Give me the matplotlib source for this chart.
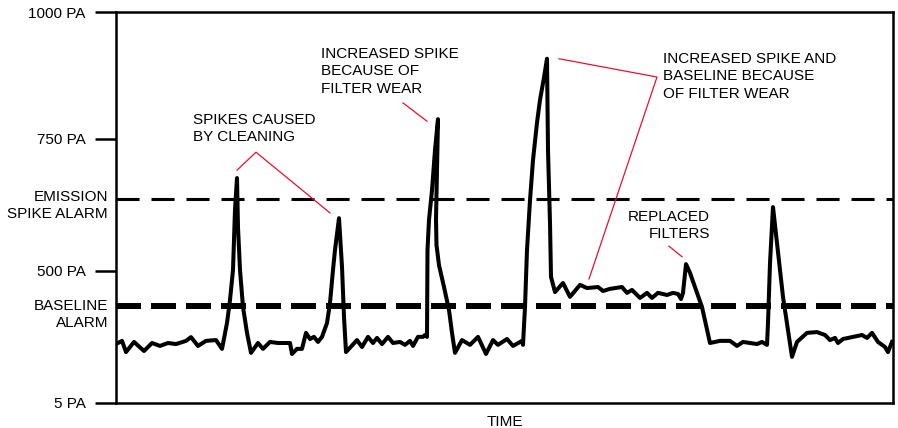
import numpy as np
import matplotlib.pyplot as plt

plt.rcParams['font.family'] = ['Liberation Sans', 'DejaVu Sans']
plt.rcParams['lines.scale_dashes'] = False

# pressure drop trace (time in arbitrary units, pressure in PA)
time = [0, 6, 10, 18, 28, 36, 44, 52, 60, 70, 75, 82, 90, 100, 106, 111, 114, 117, 119, 121,
        122, 124, 127, 131, 135, 142, 147, 154, 162, 174, 176, 181, 186, 190, 194, 198, 202,
        206, 211, 214, 217, 219, 223, 226, 228, 230, 241, 246, 252, 257, 261, 266, 272, 277,
        284, 289, 294, 297, 302, 307, 309, 311, 311.5, 313, 316, 319, 322, 321, 320, 320.5,
        323, 328, 333, 336, 339, 346, 354, 362, 370, 377, 382, 391, 397, 406, 407, 409, 411,
        414, 417, 421, 424, 428, 431, 432, 434, 435, 439, 447, 454, 464, 471, 482, 487, 494, 506, 511,
        516, 524, 531, 536, 542, 551, 557, 562, 565, 567, 570, 574, 581, 586, 594, 604, 614,
        621, 627, 634, 641, 646, 651, 652, 654, 657, 661, 667, 672, 676, 681, 691, 701, 709,
        714, 719, 722, 727, 737, 746, 751, 756, 762, 769, 772, 776]
pressure = [226, 238, 196, 234, 200, 230, 219, 230, 226, 238, 252, 219, 238, 241, 208, 305, 391, 502, 616, 676,
            583, 502, 365, 268, 193, 230, 208, 234, 230, 230, 189, 208, 208, 268, 245, 253, 234,
            253, 305, 380, 502, 540, 600, 508, 328, 196, 241, 215, 253, 230, 249, 226, 253, 230,
            234, 223, 238, 219, 253, 253, 260, 253, 540, 597, 653, 729, 789, 691, 597, 549,
            511, 440, 354, 268, 193, 241, 223, 253, 189, 241, 223, 245, 219, 238, 223, 365, 540,
            634, 710, 782, 827, 871, 908, 729, 591, 478, 421, 455, 403, 448, 436, 440, 425, 433, 440, 418,
            429, 399, 418, 399, 418, 410, 418, 414, 395, 418, 513, 493, 418, 365, 230, 238, 238,
            219, 234, 230, 226, 234, 223, 305, 515, 621, 553, 403, 279, 178, 234, 268, 271, 260,
            241, 249, 230, 245, 253, 260, 249, 268, 234, 215, 196, 234]

tick_pa = [5, 500, 750, 1000]
tick_labels = ['5 PA', '500 PA', '750 PA', '1000 PA']
emission_alarm = 636
baseline_alarm = 369

W, H = 898, 428
red = '#e8112d'
fs = 11

fig = plt.figure(figsize=(W / 100, H / 100), dpi=100)
ax = fig.add_axes([116 / W, 1 - 403 / H, (893 - 116) / W, (403 - 12) / H])

# the y axis is not linear: tick labels sit at (almost) even steps
tick_pos = [0, 132, 264, 391]
ax.set_yscale('function', functions=(lambda v: np.interp(v, tick_pa, tick_pos),
                                     lambda u: np.interp(u, tick_pos, tick_pa)))
ax.set_xlim(0, 777)
ax.set_ylim(5, 1000)
ax.set_yticks(tick_pa, tick_labels)
ax.set_xticks([])
ax.tick_params(axis='y', length=15, width=1.8, pad=7, labelsize=fs, colors='black')
for s in ax.spines.values():
    s.set_linewidth(1.8)

# alarm levels
ax.axhline(emission_alarm, color='black', lw=2.2, dashes=(16.6, 8.6))
ax.axhline(baseline_alarm, color='black', lw=4.3, dashes=(18, 7.2))

ax.plot(time, pressure, color='black', lw=2.9, solid_joinstyle='round')

# red leader lines
leaders = [
    ([121, 140, 214], [691, 725, 610]),
    ([287, 311], [821, 785]),
    ([443, 541, 473], [908, 872, 470]),
    ([553, 566], [547, 527]),
]
for lx, ly in leaders:
    ax.plot(lx, ly, color=red, lw=0.9)


def label(x, y, s, ha='left'):
    fig.text(x / W, 1 - y / H, s, ha=ha, va='top', fontsize=fs, linespacing=1.3,
             multialignment=ha)


label(108, 190, 'EMISSION\nSPIKE ALARM', ha='right')
label(108, 299, 'BASELINE\nALARM', ha='right')
label(505, 415, 'TIME', ha='center')
label(193, 113, 'SPIKES CAUSED\nBY CLEANING')
label(321, 47, 'INCREASED SPIKE\nBECAUSE OF\nFILTER WEAR')
label(663, 52, 'INCREASED SPIKE AND\nBASELINE BECAUSE\nOF FILTER WEAR')
label(710, 210, 'REPLACED\nFILTERS', ha='right')

fig.savefig('out.png', dpi=100)
